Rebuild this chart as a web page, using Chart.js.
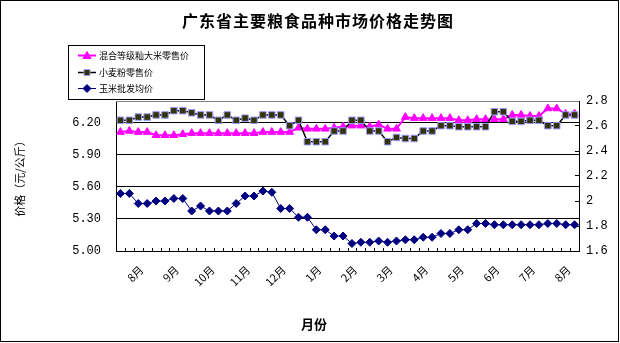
<!DOCTYPE html>
<html><head><meta charset="utf-8">
<script src="https://cdn.jsdelivr.net/npm/chart.js@4/dist/chart.umd.min.js"></script>
<style>html,body{margin:0;padding:0;background:#fff;}#wrap{width:620px;height:343px;}</style>
</head><body><div id="wrap"><canvas id="c" width="620" height="343"></canvas></div>
<script>
// 52 weekly categories, month label on selected weeks
const categories = ['', '', '8月', '', '', '', '9月', '', '', '', '10月', '', '', '', '11月', '', '', '', '12月', '',
  '', '', '1月', '', '', '', '2月', '', '', '', '3月', '', '', '', '4月', '', '', '', '5月', '',
  '', '', '6月', '', '', '', '7月', '', '', '', '8月', ''];

const seriesNames = ['混合等级籼大米零售价', '小麦粉零售价', '玉米批发均价'];

const rice = [6.11, 6.12, 6.11, 6.11, 6.08, 6.08, 6.08, 6.09, 6.10, 6.10,
  6.10, 6.10, 6.10, 6.10, 6.10, 6.10, 6.11, 6.11, 6.11, 6.11,
  6.15, 6.14, 6.14, 6.14, 6.15, 6.16, 6.17, 6.17, 6.16, 6.18,
  6.14, 6.14, 6.25, 6.24, 6.24, 6.24, 6.24, 6.24, 6.22, 6.22,
  6.23, 6.23, 6.23, 6.23, 6.27, 6.27, 6.26, 6.26, 6.33, 6.33,
  6.28, 6.28];

const flour = [6.22, 6.22, 6.25, 6.25, 6.27, 6.27, 6.31, 6.31, 6.29, 6.27,
  6.27, 6.22, 6.27, 6.22, 6.24, 6.22, 6.27, 6.27, 6.27, 6.17,
  6.22, 6.02, 6.02, 6.02, 6.12, 6.12, 6.22, 6.22, 6.12, 6.12,
  6.02, 6.06, 6.05, 6.05, 6.12, 6.12, 6.17, 6.17, 6.16, 6.16,
  6.16, 6.16, 6.30, 6.30, 6.21, 6.21, 6.22, 6.22, 6.17, 6.17,
  6.27, 6.27];

const corn = [2.06, 2.06, 1.98, 1.98, 2.00, 2.00, 2.02, 2.02, 1.92, 1.96,
  1.92, 1.92, 1.92, 1.98, 2.04, 2.04, 2.08, 2.07, 1.94, 1.94,
  1.87, 1.87, 1.77, 1.77, 1.72, 1.72, 1.66, 1.67, 1.67, 1.68,
  1.67, 1.68, 1.69, 1.69, 1.71, 1.71, 1.74, 1.74, 1.77, 1.77,
  1.82, 1.82, 1.81, 1.81, 1.81, 1.81, 1.81, 1.81, 1.82, 1.82,
  1.81, 1.81];

const leftTicks = [5.00, 5.30, 5.60, 5.90, 6.20];
const rightTicks = [1.6, 1.8, 2.0, 2.2, 2.4, 2.6, 2.8];

const CJK = '"Noto Sans CJK SC", sans-serif';
const MONO = '"Liberation Mono", "DejaVu Sans Mono", monospace';

function drawMarker(ctx, style, x, y, fill, stroke) {
  ctx.save();
  ctx.fillStyle = fill; ctx.strokeStyle = stroke; ctx.lineWidth = 1;
  ctx.beginPath();
  if (style === 'triangle') {
    ctx.moveTo(x, y - 4); ctx.lineTo(x + 4, y + 3); ctx.lineTo(x - 4, y + 3); ctx.closePath();
  } else if (style === 'rect') {
    ctx.rect(x - 3, y - 3, 6, 6);
  } else {
    ctx.moveTo(x, y - 4); ctx.lineTo(x + 4, y); ctx.lineTo(x, y + 4); ctx.lineTo(x - 4, y); ctx.closePath();
  }
  ctx.fill(); ctx.stroke();
  ctx.restore();
}

const decor = {
  id: 'decor',
  beforeDatasetsDraw(chart) {
    const ctx = chart.ctx, a = chart.chartArea;
    const xs = chart.scales.x, yr = chart.scales.y2;
    ctx.save();
    ctx.strokeStyle = '#000'; ctx.lineWidth = 1;
    // inside tick marks between categories
    const step = xs.getPixelForValue(1) - xs.getPixelForValue(0);
    ctx.beginPath();
    for (let i = 0; i <= categories.length; i++) {
      const px = Math.round(xs.getPixelForValue(i) - step / 2) + 0.5;
      ctx.moveTo(px, a.bottom - 3); ctx.lineTo(px, a.bottom);
    }
    // right axis inside ticks
    for (const t of yr.ticks) {
      const py = Math.round(yr.getPixelForValue(t.value) - 0.5) + 0.5;
      ctx.moveTo(a.right - 4, py); ctx.lineTo(a.right, py);
    }
    ctx.stroke();
    // top border (gray)
    ctx.strokeStyle = '#808080';
    ctx.beginPath(); ctx.moveTo(a.left, a.top + 0.5); ctx.lineTo(a.right, a.top + 0.5); ctx.stroke();
    ctx.restore();
  },
  afterDraw(chart) {
    const ctx = chart.ctx;
    ctx.save();
    // outer border
    ctx.strokeStyle = '#000'; ctx.lineWidth = 1;
    ctx.strokeRect(0.5, 0.5, 618, 341);
    // title
    ctx.fillStyle = '#000';
    ctx.font = 'bold 16px ' + CJK;
    ctx.textAlign = 'center'; ctx.textBaseline = 'middle';
    try { ctx.letterSpacing = '1px'; } catch (e) {}
    ctx.fillText('广东省主要粮食品种市场价格走势图', 318, 21);
    try { ctx.letterSpacing = '0px'; } catch (e) {}
    // x axis title
    ctx.font = 'bold 13px ' + CJK;
    ctx.fillText('月份', 314, 324);
    // legend
    ctx.strokeStyle = '#000';
    ctx.strokeRect(68.5, 45.5, 136, 54);
    const rows = [55.5, 72.5, 88.5];
    const ds = chart.data.datasets;
    ctx.font = '9px ' + CJK; ctx.textAlign = 'left';
    ds.forEach((d, k) => {
      const y = rows[k];
      ctx.strokeStyle = d.borderColor; ctx.lineWidth = d.borderWidth;
      ctx.beginPath(); ctx.moveTo(78, y); ctx.lineTo(96, y); ctx.stroke();
      drawMarker(ctx, d.pointStyle, 87, y, d.pointBackgroundColor, d.pointBorderColor);
      ctx.fillStyle = '#000';
      ctx.fillText(d.label, 99, y + 0.5);
    });
    ctx.restore();
  }
};

new Chart(document.getElementById('c'), {
  type: 'line',
  data: {
    labels: categories,
    datasets: [
      { label: seriesNames[0], data: rice, yAxisID: 'y', order: 3,
        borderColor: '#FF00FF', borderWidth: 2, pointStyle: 'triangle', pointRadius: 4.5,
        pointBackgroundColor: '#FF00FF', pointBorderColor: '#FF00FF', pointBorderWidth: 1, tension: 0 },
      { label: seriesNames[1], data: flour, yAxisID: 'y', order: 2,
        borderColor: '#000000', borderWidth: 1.5, pointStyle: 'rect', pointRadius: 4.6,
        pointBackgroundColor: '#333300', pointBorderColor: '#9999FF', pointBorderWidth: 1, tension: 0 },
      { label: seriesNames[2], data: corn, yAxisID: 'y2', order: 1,
        borderColor: '#000080', borderWidth: 1, pointStyle: 'rectRot', pointRadius: 4,
        pointBackgroundColor: '#000080', pointBorderColor: '#000080', pointBorderWidth: 1, tension: 0 }
    ]
  },
  options: {
    responsive: false, animation: false, devicePixelRatio: 1,
    layout: { padding: { top: 101, left: 2, right: 1, bottom: 1 } },
    plugins: { legend: { display: false }, tooltip: { enabled: false }, title: { display: false } },
    scales: {
      x: {
        type: 'category', offset: true,
        grid: { display: false, drawTicks: false },
        border: { display: true, color: '#000', width: 1 },
        ticks: { autoSkip: false, minRotation: 45, maxRotation: 45, color: '#000',
          font: { family: CJK, size: 11 }, padding: 12, labelOffset: 3 },
        afterFit: s => { s.height = 91; }
      },
      y: {
        position: 'left', min: 5, max: 6.4,
        afterBuildTicks: s => { s.ticks = leftTicks.map(v => ({ value: v })); },
        grid: { color: '#000', lineWidth: 1, drawTicks: false },
        border: { display: true, color: '#000', width: 1 },
        ticks: { color: '#000', font: { family: MONO, size: 12 }, padding: 15,
          callback: v => Number(v).toFixed(2) },
        title: { display: true, text: '价格（元/公斤）', color: '#000',
          font: { family: CJK, size: 11 }, padding: { top: 11, bottom: 0 } },
        afterFit: s => { s.width = 114; }
      },
      y2: {
        position: 'right', min: 1.6, max: 2.8,
        afterBuildTicks: s => { s.ticks = rightTicks.map(v => ({ value: v })); },
        grid: { drawOnChartArea: false, drawTicks: false },
        border: { display: true, color: '#000', width: 1 },
        ticks: { color: '#000', font: { family: MONO, size: 12 }, padding: 7,
          callback: v => String(Math.round(v * 10) / 10) },
        afterFit: s => { s.width = 40; }
      }
    }
  },
  plugins: [decor]
});
</script></body></html>
